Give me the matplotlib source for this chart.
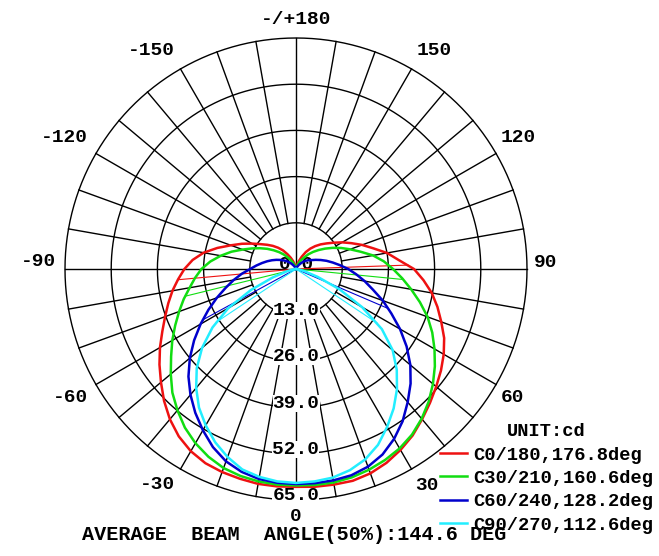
import numpy as np
import matplotlib
matplotlib.use('Agg')
import matplotlib.pyplot as plt
from matplotlib.font_manager import FontProperties

# gamma angles (deg) and luminous intensity (cd) per C-plane
gamma = np.arange(0, 181, 5)

c0 = [61.3, 61.5, 61.6, 61.7, 61.2, 60.2, 58.8, 57.2, 55.2, 53.3, 51.5, 49.8, 48.0,
      46.0, 43.5, 41.2, 38.8, 36.0, 33.2, 29.0, 26.0, 22.5, 19.8, 17.2, 15.0, 12.9,
      11.2, 9.8, 8.4, 7.0, 5.5, 3.8, 2.4, 1.3, 0.6, 0.2, 0.0]
c180 = [61.3, 61.4, 61.4, 61.1, 60.8, 60.3, 59.2, 57.5, 55.2, 52.5, 49.6, 46.9, 44.2,
        41.5, 39.2, 37.2, 35.3, 33.3, 31.4, 29.2, 26.4, 22.9, 19.5, 16.8, 14.3, 12.2,
        10.6, 9.2, 7.8, 6.4, 4.8, 3.5, 2.3, 1.2, 0.5, 0.2, 0.0]
c30 = [60.9, 61.0, 61.0, 60.7, 60.1, 59.3, 58.3, 56.9, 55.0, 52.8, 50.3, 47.7, 45.0,
       42.3, 39.4, 36.1, 32.9, 30.0, 27.3, 24.8, 22.0, 18.8, 16.2, 14.0, 11.9, 10.0,
       8.3, 6.8, 5.4, 3.9, 2.8, 1.8, 1.0, 0.5, 0.2, 0.0, 0.0]
c210 = [60.9, 60.9, 60.7, 60.3, 59.6, 58.3, 56.6, 54.5, 51.9, 49.2, 46.0, 42.9, 40.2,
        37.5, 35.0, 32.7, 30.4, 28.5, 26.6, 24.2, 21.5, 18.8, 16.0, 13.7, 11.7, 9.9,
        8.2, 6.7, 5.3, 3.9, 2.8, 1.8, 1.0, 0.5, 0.2, 0.0, 0.0]
c60 = [60.5, 60.5, 60.4, 60.1, 59.2, 57.6, 55.2, 52.3, 48.9, 45.6, 42.0, 38.0, 33.8,
       29.6, 26.0, 22.4, 19.6, 17.0, 14.7, 12.4, 10.5, 8.9, 7.4, 6.1, 5.0, 4.3,
       3.6, 2.9, 2.1, 1.4, 0.8, 0.4, 0.1, 0.0, 0.0, 0.0, 0.0]
c240 = [60.5, 60.4, 60.0, 59.1, 57.6, 55.3, 52.4, 49.4, 46.2, 42.8, 39.0, 35.0, 31.0,
        27.2, 23.7, 20.5, 17.8, 15.3, 12.9, 11.2, 9.7, 8.4, 7.2, 6.1, 5.1, 4.2,
        3.4, 2.6, 1.9, 1.2, 0.7, 0.3, 0.1, 0.0, 0.0, 0.0, 0.0]
c90 = [60.2, 60.0, 59.6, 58.6, 57.0, 54.6, 51.3, 47.9, 44.2, 40.1, 35.5, 29.5, 21.5,
       13.5, 6.5, 2.5, 1.0, 0.4, 0.1, 0.0, 0.0, 0.0, 0.0, 0.0, 0.0, 0.0,
       0.0, 0.0, 0.0, 0.0, 0.0, 0.0, 0.0, 0.0, 0.0, 0.0, 0.0]
c270 = [60.2, 60.0, 59.4, 58.4, 56.3, 53.8, 50.8, 47.6, 43.7, 39.5, 34.5, 28.7, 22.0,
        14.0, 7.0, 2.8, 1.0, 0.4, 0.1, 0.0, 0.0, 0.0, 0.0, 0.0, 0.0, 0.0,
        0.0, 0.0, 0.0, 0.0, 0.0, 0.0, 0.0, 0.0, 0.0, 0.0, 0.0]

# half beam angles (deg): right side (C0..C90), left side (C180..C270)
half_right = [92.0, 84.4, 66.8, 56.3]
half_left = [84.8, 76.2, 61.4, 56.3]

plane_names = ['C0/180,176.8deg', 'C30/210,160.6deg', 'C60/240,128.2deg', 'C90/270,112.6deg']
colors = ['#ee1111', '#11dd11', '#0000cc', '#22eeff']
rings = [13, 26, 39, 52, 65]
ring_labels = ['13.0', '26.0', '39.0', '52.0', '65.0']
angle_labels = ['0', '30', '60', '90', '120', '150', '-/+180', '-150', '-120', '-90', '-60', '-30']

# where each angle label sits (theta deg, r)
label_pos = [(0, 69.7), (31.1, 71.3), (59.3, 71.0), (91.6, 70.4), (120.7, 72.7),
             (147.7, 72.6), (180, 70.1), (-146.4, 73.7), (-119.5, 75.0),
             (-91.6, 72.4), (-60.3, 73.2), (-32.6, 72.1)]

mono = 'Liberation Mono'
fig = plt.figure(figsize=(6.59, 5.56), dpi=100)
ax = fig.add_axes([65 / 659, 56 / 556, 462 / 659, 462 / 556], projection='polar')
ax.set_theta_zero_location('S')
ax.set_theta_direction(1)
ax.set_ylim(0, 65)
ax.set_axis_off()

# grid: rings and spokes
tt = np.linspace(0, 2 * np.pi, 721)
for r in rings:
    ax.plot(tt, np.full_like(tt, r), color='black', lw=1, zorder=1, clip_on=False)
for a in range(0, 360, 10):
    r0 = 0 if a % 90 == 0 else 13
    ax.plot([np.radians(a)] * 2, [r0, 65], color='black', lw=1, zorder=1, clip_on=False)

# ring labels
ax.text(0, 0, '0.0', ha='center', va='baseline', fontsize=14, family=mono,
        fontweight='bold', zorder=3)
for r, lab in zip(rings, ring_labels):
    ax.text(0, r, lab, ha='center', va='baseline', fontsize=14, family=mono,
            fontweight='bold', zorder=3,
            bbox=dict(facecolor='white', edgecolor='none', pad=0))

# angle labels
for (a, rr), lab in zip(label_pos, angle_labels):
    ax.text(np.radians(a), rr, lab, ha='center', va='center', fontsize=14,
            family=mono, fontweight='bold')

# curves
right = [c0, c30, c60, c90]
left = [c180, c210, c240, c270]
g = np.radians(gamma)
handles = []
for rv, lv, hr, hl, col in zip(right, left, half_right, half_left, colors):
    rv = np.array(rv)
    lv = np.array(lv)
    theta = np.concatenate([-g[::-1], g[1:]])
    rad = np.concatenate([lv[::-1], rv[1:]])
    ln, = ax.plot(theta, rad, color=col, lw=1.8, zorder=4)
    handles.append(ln)
    ax.plot([0, np.radians(hr)], [0, np.interp(hr, gamma, rv)], color=col, lw=0.8, zorder=4)
    ax.plot([0, -np.radians(hl)], [0, np.interp(hl, gamma, lv)], color=col, lw=0.8, zorder=4)

fp = FontProperties(family=mono, weight='bold', size=13.5)
fig.legend(handles, plane_names, loc='upper left', bbox_to_anchor=(440 / 659, 1 - 423 / 556),
           frameon=False, prop=fp, title='UNIT:cd', title_fontproperties=fp,
           handlelength=1.45, handletextpad=0.3, labelspacing=0.34,
           borderpad=0, borderaxespad=0)

fig.text(82 / 659, 1 - 535 / 556, 'AVERAGE  BEAM  ANGLE(50%):144.6 DEG', ha='left', va='center',
         fontsize=14.5, family=mono, fontweight='bold')

fig.savefig('out.png', dpi=100)
